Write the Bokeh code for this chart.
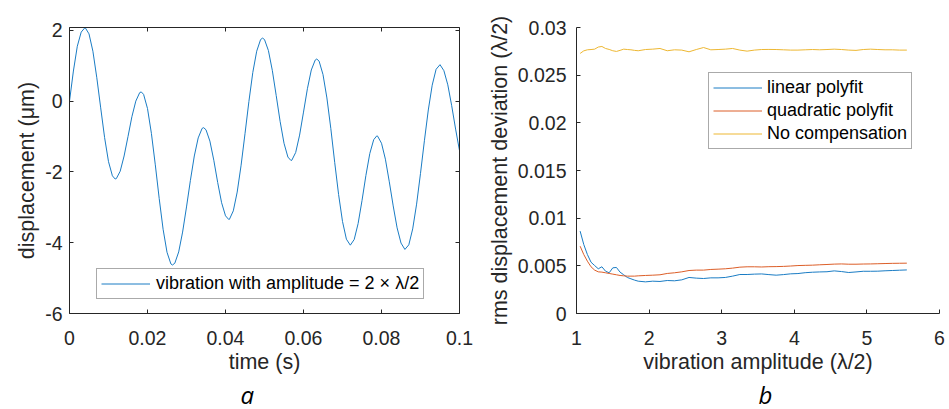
from bokeh.plotting import figure
from bokeh.models import (Range1d, LinearAxis, FixedTicker, Legend, LegendItem,
                          Title, CustomJSTickFormatter)
from bokeh.layouts import row
from bokeh.embed import file_html
from bokeh.resources import INLINE

# ---------------- data: panel a ----------------
time_s = [0.000, 0.001, 0.002, 0.003, 0.004, 0.005, 0.006, 0.007, 0.008, 0.009,
          0.010, 0.011, 0.0117, 0.012, 0.013, 0.014, 0.015, 0.016, 0.017, 0.018,
          0.0184, 0.019, 0.020, 0.021, 0.022, 0.023, 0.024, 0.025, 0.026, 0.0264,
          0.027, 0.028, 0.029, 0.030, 0.031, 0.032, 0.033, 0.034, 0.0344, 0.035,
          0.036, 0.037, 0.038, 0.039, 0.040, 0.0408, 0.041, 0.042, 0.043, 0.044,
          0.045, 0.046, 0.047, 0.048, 0.049, 0.0495, 0.050, 0.051, 0.052, 0.053,
          0.054, 0.055, 0.056, 0.0568, 0.057, 0.058, 0.059, 0.060, 0.061, 0.062,
          0.063, 0.0634, 0.064, 0.065, 0.066, 0.067, 0.068, 0.069, 0.070, 0.071,
          0.072, 0.073, 0.074, 0.075, 0.076, 0.077, 0.078, 0.0788, 0.079, 0.080,
          0.081, 0.082, 0.083, 0.084, 0.085, 0.086, 0.087, 0.088, 0.089, 0.090,
          0.091, 0.092, 0.093, 0.094, 0.095, 0.096, 0.097, 0.098, 0.099, 0.100]
displacement_um = [0.00, 0.85, 1.55, 1.95, 2.08, 1.90, 1.41, 0.66, -0.19, -1.03,
                   -1.71, -2.11, -2.20, -2.19, -1.98, -1.55, -1.00, -0.44, 0.00, 0.24,
                   0.26, 0.19, -0.21, -0.91, -1.80, -2.75, -3.62, -4.27, -4.60, -4.63,
                   -4.58, -4.26, -3.70, -2.99, -2.24, -1.55, -1.04, -0.77, -0.75, -0.81,
                   -1.13, -1.67, -2.30, -2.87, -3.24, -3.34, -3.34, -3.10, -2.57, -1.81,
                   -0.92, -0.01, 0.81, 1.41, 1.74, 1.78, 1.74, 1.43, 0.87, 0.16,
                   -0.57, -1.19, -1.58, -1.68, -1.67, -1.45, -0.96, -0.31, 0.35, 0.88,
                   1.16, 1.19, 1.13, 0.75, 0.09, -0.77, -1.73, -2.64, -3.40, -3.90,
                   -4.07, -3.91, -3.46, -2.81, -2.10, -1.48, -1.09, -0.98, -0.99, -1.19,
                   -1.64, -2.28, -2.96, -3.58, -4.01, -4.19, -4.06, -3.61, -2.91, -2.04,
                   -1.12, -0.25, 0.45, 0.90, 1.03, 0.86, 0.46, -0.13, -0.79, -1.40]
a_legend_label = "vibration with amplitude = 2 \u00d7 \u03bb/2"
a_xticks = [0, 0.02, 0.04, 0.06, 0.08, 0.1]
a_xtick_labels = ["0", "0.02", "0.04", "0.06", "0.08", "0.1"]
a_yticks = [-6, -4, -2, 0, 2]
a_ytick_labels = ["-6", "-4", "-2", "0", "2"]
a_panel_tag = "a"

# ---------------- data: panel b ----------------
amplitude = [1.05, 1.10, 1.15, 1.20, 1.25, 1.30, 1.35, 1.40, 1.45, 1.50,
             1.55, 1.60, 1.65, 1.70, 1.75, 1.80, 1.85, 1.95, 2.05, 2.15,
             2.25, 2.35, 2.45, 2.55, 2.65, 2.75, 2.85, 2.95, 3.05, 3.15,
             3.25, 3.35, 3.45, 3.55, 3.65, 3.75, 3.85, 3.95, 4.05, 4.15,
             4.25, 4.35, 4.45, 4.55, 4.65, 4.75, 4.85, 4.95, 5.05, 5.15,
             5.25, 5.35, 5.45, 5.55]
linear_polyfit = [0.00864, 0.00724, 0.00619, 0.00538, 0.00503, 0.00469, 0.00490, 0.00444, 0.00427, 0.00479,
                  0.00483, 0.00434, 0.00406, 0.00378, 0.00364, 0.00350, 0.00339, 0.00332, 0.00339, 0.00336,
                  0.00346, 0.00343, 0.00353, 0.00378, 0.00371, 0.00367, 0.00374, 0.00374, 0.00378, 0.00392,
                  0.00409, 0.00409, 0.00413, 0.00415, 0.00408, 0.00402, 0.00408, 0.00416, 0.00419, 0.00428,
                  0.00433, 0.00436, 0.00438, 0.00447, 0.00440, 0.00430, 0.00436, 0.00443, 0.00443, 0.00444,
                  0.00448, 0.00451, 0.00454, 0.00457]
quadratic_polyfit = [0.00706, 0.00619, 0.00549, 0.00490, 0.00455, 0.00437, 0.00434, 0.00427, 0.00420, 0.00413,
                     0.00406, 0.00399, 0.00395, 0.00392, 0.00392, 0.00392, 0.00395, 0.00399, 0.00402, 0.00406,
                     0.00420, 0.00427, 0.00437, 0.00451, 0.00455, 0.00455, 0.00462, 0.00465, 0.00469, 0.00476,
                     0.00486, 0.00490, 0.00490, 0.00488, 0.00491, 0.00492, 0.00494, 0.00498, 0.00503, 0.00505,
                     0.00507, 0.00511, 0.00514, 0.00518, 0.00520, 0.00517, 0.00517, 0.00519, 0.00520, 0.00522,
                     0.00524, 0.00526, 0.00527, 0.00528]
no_compensation = [0.02728, 0.02755, 0.02766, 0.02769, 0.02773, 0.02795, 0.02801, 0.02780, 0.02770, 0.02756,
                   0.02749, 0.02760, 0.02773, 0.02769, 0.02766, 0.02760, 0.02756, 0.02769, 0.02773, 0.02780,
                   0.02756, 0.02766, 0.02763, 0.02745, 0.02769, 0.02790, 0.02766, 0.02769, 0.02773, 0.02780,
                   0.02763, 0.02752, 0.02763, 0.02769, 0.02770, 0.02769, 0.02766, 0.02763, 0.02763, 0.02766,
                   0.02769, 0.02766, 0.02769, 0.02773, 0.02769, 0.02763, 0.02760, 0.02769, 0.02773, 0.02769,
                   0.02766, 0.02766, 0.02763, 0.02763]
b_series_labels = ["linear polyfit", "quadratic polyfit", "No compensation"]
b_xticks = [1, 2, 3, 4, 5, 6]
b_xtick_labels = ["1", "2", "3", "4", "5", "6"]
b_yticks = [0, 0.005, 0.01, 0.015, 0.02, 0.025, 0.03]
b_ytick_labels = ["0", "0.005", "0.01", "0.015", "0.02", "0.025", "0.03"]
b_panel_tag = "b"

# ---------------- styling ----------------
FONT = "Liberation Sans"
AX = "#262626"
C_BLUE = "#1A7CC4"
C_RED = "#DC5E28"
C_YEL = "#EDB732"


def fmt(ticks, labels):
    return CustomJSTickFormatter(args=dict(tv=ticks, tl=labels), code="""
        for (let i = 0; i < tv.length; i++) {
            if (Math.abs(tv[i] - tick) < 1e-9) return tl[i];
        }
        return '';
    """)


def blank():
    return CustomJSTickFormatter(code="return '';")


def style_axis(ax, standoff, label_standoff=3):
    ax.axis_line_color = AX
    ax.axis_line_width = 1
    ax.major_tick_line_color = AX
    ax.major_tick_in = 4
    ax.major_tick_out = 0
    ax.minor_tick_line_color = None
    ax.major_label_text_font = FONT
    ax.major_label_text_font_size = "19.5px"
    ax.major_label_text_color = AX
    ax.major_label_standoff = standoff
    ax.axis_label_text_font = FONT
    ax.axis_label_text_font_size = "21.5px"
    ax.axis_label_text_font_style = "normal"
    ax.axis_label_text_color = AX
    ax.axis_label_standoff = label_standoff


def style_legend(leg):
    leg.label_text_font = FONT
    leg.label_text_font_size = "18px"
    leg.label_text_color = "black"
    leg.border_line_color = "#555555"
    leg.border_line_width = 1
    leg.background_fill_color = "white"
    leg.background_fill_alpha = 1
    leg.glyph_width = 49
    leg.glyph_height = 21
    leg.label_height = 21
    leg.label_standoff = 5
    leg.padding = 4
    leg.spacing = 2
    leg.margin = 0


def panel_tag(text, offset):
    return Title(text=text, align="left", offset=offset, standoff=-2,
                 text_font="Open Sans", text_font_style="italic", text_font_size="24px",
                 text_color="black")


# ---------------- panel a ----------------
p1 = figure(width=478, height=409, x_range=Range1d(0, 0.1), y_range=Range1d(-6, 2.08),
            output_backend="svg", toolbar_location=None,
            min_border_left=69, min_border_right=19, min_border_top=27, min_border_bottom=96)
p1.outline_line_color = None
p1.xgrid.visible = False
p1.ygrid.visible = False
p1.xaxis.ticker = FixedTicker(ticks=a_xticks)
p1.xaxis.formatter = fmt(a_xticks, a_xtick_labels)
p1.yaxis.ticker = FixedTicker(ticks=a_yticks)
p1.yaxis.formatter = fmt(a_yticks, a_ytick_labels)
p1.xaxis.axis_label = "time (s)"
p1.yaxis.axis_label = "displacement (\u03bcm)"
style_axis(p1.xaxis[0], 17, 2)
style_axis(p1.yaxis[0], 7)
top1 = LinearAxis(ticker=FixedTicker(ticks=a_xticks), formatter=blank())
right1 = LinearAxis(ticker=FixedTicker(ticks=a_yticks), formatter=blank())
style_axis(top1, 0, 0)
style_axis(right1, 0, 0)
p1.add_layout(top1, "above")
p1.add_layout(right1, "right")

r1 = p1.line(time_s, displacement_um, line_color=C_BLUE, line_width=1)
leg1 = Legend(items=[LegendItem(label=a_legend_label, renderers=[r1])], location=(27, 14))
style_legend(leg1)
leg1.label_height = 19
leg1.glyph_height = 19
leg1.label_standoff = 6
p1.add_layout(leg1)
p1.add_layout(panel_tag(a_panel_tag, 171), "below")

# ---------------- panel b ----------------
p2 = figure(width=471, height=409, x_range=Range1d(1, 6), y_range=Range1d(0, 0.03),
            output_backend="svg", toolbar_location=None,
            min_border_left=98, min_border_right=10, min_border_top=27, min_border_bottom=96)
p2.outline_line_color = None
p2.xgrid.visible = False
p2.ygrid.visible = False
p2.xaxis.ticker = FixedTicker(ticks=b_xticks)
p2.xaxis.formatter = fmt(b_xticks, b_xtick_labels)
p2.yaxis.ticker = FixedTicker(ticks=b_yticks)
p2.yaxis.formatter = fmt(b_yticks, b_ytick_labels)
p2.xaxis.axis_label = "vibration amplitude (\u03bb/2)"
p2.yaxis.axis_label = "rms displacement deviation (\u03bb/2)"
style_axis(p2.xaxis[0], 17, 2)
style_axis(p2.yaxis[0], 10)

rb = p2.line(amplitude, linear_polyfit, line_color=C_BLUE, line_width=1)
rr = p2.line(amplitude, quadratic_polyfit, line_color=C_RED, line_width=1)
ry = p2.line(amplitude, no_compensation, line_color=C_YEL, line_width=1)
leg2 = Legend(items=[LegendItem(label=b_series_labels[0], renderers=[rb]),
                     LegendItem(label=b_series_labels[1], renderers=[rr]),
                     LegendItem(label=b_series_labels[2], renderers=[ry])],
              location=(132, 164))
style_legend(leg2)
p2.add_layout(leg2)
p2.add_layout(panel_tag(b_panel_tag, 182), "below")

layout = row(p1, p2)
open("out.html", "w").write(file_html(layout, INLINE))
